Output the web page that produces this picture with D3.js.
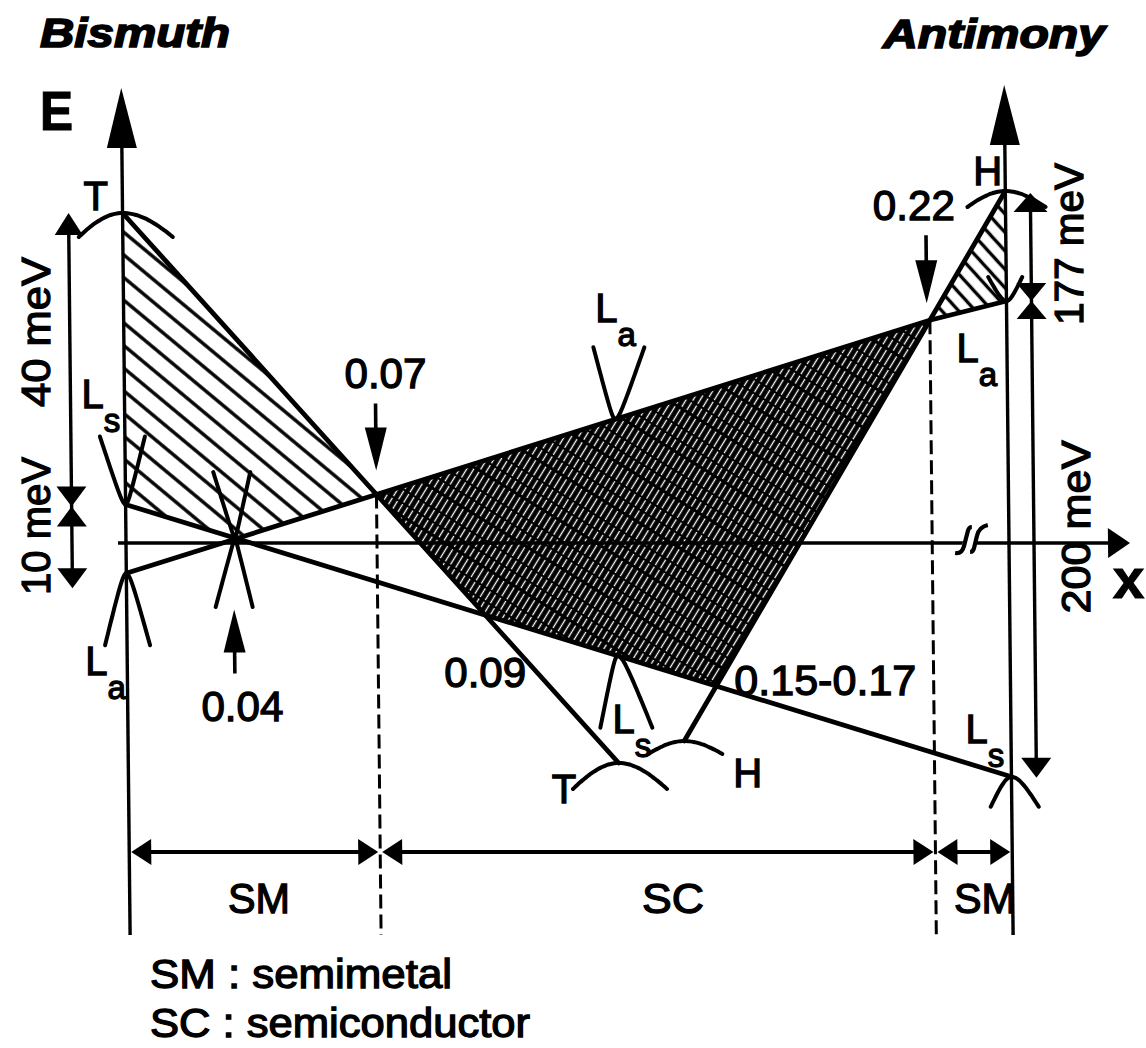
<!DOCTYPE html>
<html>
<head>
<meta charset="utf-8">
<script src="https://cdn.jsdelivr.net/npm/d3@7"></script>
<style>
  body { margin: 0; background: #fff; }
  text { font-family: "Liberation Sans", Arial, sans-serif; fill: #000; }
</style>
</head>
<body>
<svg id="chart" width="1146" height="1048"></svg>
<script>
// Sb fraction x of Bi(1-x)Sb(x) at the schematic breakpoints of the axis
const compositions = [0, 0.04, 0.07, 0.09, 0.16, 0.22, 1];

// band edges, [x, E] with E in schematic meV-like units (E = 0 on the x axis)
const bandT  = [[0, 60], [0.13, -40]];
const bandLs = [[0, 7], [1, -42.5]];
const bandLa = [[0, -5.5], [0.22, 40.5], [1, 44]];
const bandH  = [[0.15, -36], [1, 64]];

// band extrema drawn as little dispersion sketches
const extrema = [
  { band: "T",  x: 0,    kind: "hill" },
  { band: "Ls", x: 0,    kind: "valley" },
  { band: "La", x: 0,    kind: "hill" },
  { band: "Ls", x: 0.04, kind: "valley" },
  { band: "La", x: 0.04, kind: "hill" },
  { band: "La", x: 0.13, kind: "valley" },
  { band: "Ls", x: 0.13, kind: "hill" },
  { band: "T",  x: 0.13, kind: "hill" },
  { band: "H",  x: 0.15, kind: "hill" },
  { band: "H",  x: 1,    kind: "hill" },
  { band: "Ls", x: 1,    kind: "hill" },
  { band: "La", x: 1,    kind: "valley" }
];

// compositions where two band edges cross
const crossings = [
  { label: "0.04",      bands: ["La", "Ls"] },
  { label: "0.07",      bands: ["T", "La"] },
  { label: "0.09",      bands: ["T", "Ls"] },
  { label: "0.15-0.17", bands: ["H", "Ls"] },
  { label: "0.22",      bands: ["H", "La"] }
];

const gapLabels = ["40 meV", "10 meV", "177 meV", "200 meV"];
const phases = ["SM", "SC", "SM"];
const legend = ["SM : semimetal", "SC : semiconductor"];

/*** scales ***/
const x = d3.scaleLinear().domain(compositions).range([126, 235, 377, 485, 715, 932, 1009]);
const y = d3.scaleLinear().domain([-60, 80]).range([873, 103]);
const Y0 = y(0);
const K = Math.tan(0.6 * Math.PI / 180);   // the scan is slightly sheared
const scr = p => [p[0] + K * (p[1] - Y0), p[1]];

const bands = { T: bandT, Ls: bandLs, La: bandLa, H: bandH };
const P = {};
for (const k in bands) P[k] = bands[k].map(d => [x(d[0]), y(d[1])]);

function meet(A, B) {
  for (let i = 0; i < A.length - 1; i++) {
    for (let j = 0; j < B.length - 1; j++) {
      const [x1, y1] = A[i], [x2, y2] = A[i + 1], [x3, y3] = B[j], [x4, y4] = B[j + 1];
      const den = (x1 - x2) * (y3 - y4) - (y1 - y2) * (x3 - x4);
      if (!den) continue;
      const t = ((x1 - x3) * (y3 - y4) - (y1 - y3) * (x3 - x4)) / den;
      const u = ((x1 - x3) * (y1 - y2) - (y1 - y3) * (x1 - x2)) / den;
      if (t >= 0 && t <= 1 && u >= 0 && u <= 1) return [x1 + t * (x2 - x1), y1 + t * (y2 - y1)];
    }
  }
  return null;
}
function onBand(k, c) {
  const pts = P[k], X = x(c);
  for (let i = 0; i < pts.length - 1; i++) {
    const a = pts[i], b = pts[i + 1];
    if (X >= a[0] - 0.01 && X <= b[0] + 0.01) return [X, a[1] + (b[1] - a[1]) * (X - a[0]) / (b[0] - a[0])];
  }
  return [X, pts[0][1]];
}
const C = {};
crossings.forEach(d => { C[d.label] = meet(P[d.bands[0]], P[d.bands[1]]); });

/*** svg ***/
const svg = d3.select("#chart");
svg.append("rect").attr("width", 1146).attr("height", 1048).attr("fill", "#fff");
const defs = svg.append("defs");

function hatch(id, angle, gap, width, bg, fg, dash) {
  const p = defs.append("pattern").attr("id", id)
    .attr("patternUnits", "userSpaceOnUse")
    .attr("width", 40).attr("height", gap)
    .attr("patternTransform", "rotate(" + angle + ")");
  if (bg) p.append("rect").attr("width", 40).attr("height", gap).attr("fill", bg);
  p.append("line").attr("x1", 0).attr("x2", 40).attr("y1", gap / 2).attr("y2", gap / 2)
    .attr("stroke", fg).attr("stroke-width", width).attr("stroke-dasharray", dash || null);
}
hatch("hatchBi", 40, 17.5, 3.6, null, "#000");
hatch("hatchSb", 48, 12.5, 3.4, null, "#000");
hatch("hatchSC", -58, 6, 1.1, "#000", "#fff", "14,3,9,2,10,2");

const g = svg.append("g")
  .attr("transform", "matrix(1,0," + K + ",1," + (-K * Y0) + ",0)");

const line = d3.line();
function tri(tx, ty, dir, len, hw) {
  let pts;
  if (dir === "up")    pts = [[tx, ty], [tx - hw, ty + len], [tx + hw, ty + len]];
  if (dir === "down")  pts = [[tx, ty], [tx - hw, ty - len], [tx + hw, ty - len]];
  if (dir === "left")  pts = [[tx, ty], [tx + len, ty - hw], [tx + len, ty + hw]];
  if (dir === "right") pts = [[tx, ty], [tx - len, ty - hw], [tx - len, ty + hw]];
  g.append("path").attr("d", line(pts) + "Z").attr("fill", "#000");
}
function seg(x1, y1, x2, y2, w, dash) {
  g.append("line").attr("x1", x1).attr("y1", y1).attr("x2", x2).attr("y2", y2)
    .attr("stroke", "#000").attr("stroke-width", w || 3)
    .attr("stroke-dasharray", dash || null);
}

/*** hatched regions ***/
const bi = [P.T[0], C["0.07"], C["0.04"], P.Ls[0]];
const sc = [C["0.07"], C["0.22"], C["0.15-0.17"], C["0.09"]];
const sb = [P.H[1], C["0.22"], P.La[2]];
g.append("path").attr("d", line(bi) + "Z").attr("fill", "url(#hatchBi)");
g.append("path").attr("d", line(sc) + "Z").attr("fill", "url(#hatchSC)");
g.append("path").attr("d", line(sb) + "Z").attr("fill", "url(#hatchSb)");

/*** axes ***/
const bottom = 935;
seg(x(0), bottom, x(0), 140, 3.4);
tri(x(0), 88, "up", 60, 15);
seg(x(1), bottom, x(1), 140, 3.4);
tri(x(1), 85, "up", 60, 15);
seg(118, Y0, 1112, Y0, 3.6);
tri(1130, Y0, "right", 22, 15);

// axis break
g.append("path").attr("d", "M961,550 L966,529 L978,527 L973,550 Z").attr("fill", "#fff");
g.append("path").attr("d", "M955,553 Q962,554 964,546 L968,531 Q969,527 972,527")
  .attr("fill", "none").attr("stroke", "#000").attr("stroke-width", 4.2);
g.append("path").attr("d", "M970,552 Q973,552 974,548 L977,536 Q979,527 988,525")
  .attr("fill", "none").attr("stroke", "#000").attr("stroke-width", 4.2);

// phase boundaries
[C["0.07"], C["0.22"]].forEach(p => seg(p[0], p[1], p[0], bottom, 3, "14,6"));

/*** band edges ***/
for (const k in P) {
  g.append("path").attr("d", line(P[k])).attr("fill", "none")
    .attr("stroke", "#000").attr("stroke-width", 4.8).attr("stroke-linecap", "round");
}

/*** dispersion sketches ***/
const sketch = [
  [44, 50, 24, 1.2], [25, 20, 68, 0.15], [22, 23, 72, 0.2],
  [21, 16, 66, 0.05], [20, 17, 68, 0.05],
  [21, 30, 72, 0.15], [18, 34, 72, 0.2], [46, 48, 26, 1.0], [36, 38, 13, 1.0],
  [38, 40, 16, 1.0], [21, 27, 30, 0.5], [18, 16, 24, 0.4]
];
extrema.forEach((d, i) => {
  const [wl, wr, h, r] = sketch[i];
  const p = onBand(d.band, d.x);
  const dir = d.kind === "hill" ? 1 : -1;
  const norm = Math.sqrt(r * r + 1) - r;
  const pts = d3.range(-1, 1.0001, 0.05).map(t => {
    const f = (Math.sqrt(r * r + t * t) - r) / norm;
    return [p[0] + t * (t < 0 ? wl : wr), p[1] + dir * h * f];
  });
  g.append("path").attr("d", d3.line().curve(d3.curveBasis)(pts))
    .attr("fill", "none").attr("stroke", "#000").attr("stroke-width", 4)
    .attr("stroke-linecap", "round");
});

/*** crossing arrows ***/
function vArrow(px, yFrom, yTip) {
  const dir = yTip > yFrom ? "down" : "up";
  seg(px, yFrom, px, yTip + (dir === "down" ? -30 : 30), 3.6);
  tri(px, yTip, dir, 43, 11);
}
vArrow(C["0.07"][0], C["0.07"][1] - 91, C["0.07"][1] - 24);
vArrow(C["0.04"][0] - 3, C["0.04"][1] + 135, C["0.04"][1] + 71);
vArrow(C["0.22"][0] - 3, C["0.22"][1] - 85, C["0.22"][1] - 17);

/*** energy gap arrows ***/
const xl = x(0) - 54;
const yT0 = P.T[0][1], yLs0 = P.Ls[0][1], yLa0 = P.La[0][1];
seg(xl, yT0 + 10, xl, yLa0 + 5, 3.4);
tri(xl, yT0, "up", 22, 14);
tri(xl, yLs0 + 2, "down", 20, 15);
tri(xl, yLs0 + 2, "up", 20, 15);
tri(xl, yLa0 + 15, "down", 20, 15);

const xr = x(1) + 25;
const yH1 = P.H[1][1], yLa1 = P.La[2][1], yLs1 = P.Ls[1][1];
seg(xr, yH1 + 10, xr, yLs1 - 10, 3.4);
tri(xr, yH1 + 2, "up", 19, 17);
tri(xr, yLa1, "down", 18, 15);
tri(xr, yLa1, "up", 18, 15);
tri(xr, yLs1 + 1, "down", 20, 15);

/*** phase arrows ***/
const bounds = [x(0), C["0.07"][0], C["0.22"][0], x(1)];
const yPh = 852;
phases.forEach((d, i) => {
  const a = bounds[i] + 2, b = bounds[i + 1] - 2;
  seg(a + 10, yPh, b - 10, yPh, 3.8);
  tri(a, yPh, "left", 20, 13);
  tri(b, yPh, "right", 20, 13);
});

/*** texts ***/
function txt(s, tx, ty, size, opt) {
  opt = opt || {};
  const t = svg.append("text").attr("x", tx).attr("y", ty)
    .attr("font-size", size)
    .attr("text-anchor", opt.anchor || "start")
    .attr("font-weight", opt.weight || "normal")
    .attr("font-style", opt.style || "normal")
    .attr("stroke", "#000").attr("stroke-width", opt.sw == null ? 1.3 : opt.sw)
    .text(s);
  if (opt.len) t.attr("textLength", opt.len).attr("lengthAdjust", "spacingAndGlyphs");
  if (opt.rot) t.attr("transform", "rotate(" + opt.rot + "," + tx + "," + ty + ")");
  return t;
}

txt("Bismuth", 40, 47, 40, { weight: "bold", style: "italic", len: 190, sw: 1.6 });
txt("Antimony", 1105, 48, 40, { weight: "bold", style: "italic", anchor: "end", len: 222, sw: 1.6 });
txt("E", 40, 130, 56, { weight: "bold", len: 33, sw: 1.2 });
txt("x", 1113, 598, 56, { weight: "bold", sw: 1.2 });

// band labels, placed next to the sketches
function bandLabel(name, sub, p, dx, dy) {
  const s = scr(p);
  const t = txt(name, s[0] + dx, s[1] + dy, 40);
  if (sub) t.append("tspan").attr("font-size", 33).attr("dy", 24).text(sub);
}
bandLabel("T", null, P.T[0], -39, -3);
bandLabel("L", "s", P.Ls[0], -44, -97);
bandLabel("L", "a", P.La[0], -41, 102);
bandLabel("L", "a", onBand("La", 0.13), -20, -97);
bandLabel("L", "s", onBand("Ls", 0.13), -5, 77);
bandLabel("T", null, P.T[1], -67, 40);
bandLabel("H", null, P.H[0], 49, 46);
bandLabel("H", null, P.H[1], -32, -6);
bandLabel("L", "a", P.La[2], -50, 61);
bandLabel("L", "s", P.Ls[1], -46, -34);

// crossing labels
const crossPos = {
  "0.04": [6, 182, "middle"], "0.07": [9, -106, "middle"], "0.09": [0, 72, "middle"],
  "0.15-0.17": [18, 9, "start"], "0.22": [25, -100, "end"]
};
crossings.forEach(d => {
  const s = scr(C[d.label]), o = crossPos[d.label];
  txt(d.label, s[0] + o[0], s[1] + o[1], 42, { anchor: o[2], len: d.label.length > 4 ? 182 : 82 });
});

// energy gaps
const gapPos = [[50, 332, 150], [50, 526, 138], [1083, 244, 162], [1090, 527, 173]];
gapLabels.forEach((d, i) => {
  const [gx, gy, len] = gapPos[i];
  txt(d, gx, gy, 40, { anchor: "middle", rot: -90, len: len });
});

// phases
const phaseX = [259, 673, 985];
phases.forEach((d, i) => txt(d, phaseX[i], 913, 42, { anchor: "middle", len: 62 }));

// legend
txt(legend[0], 150, 988, 40, { len: 302 });
txt(legend[1], 150, 1037, 40, { len: 380 });
</script>
</body>
</html>
